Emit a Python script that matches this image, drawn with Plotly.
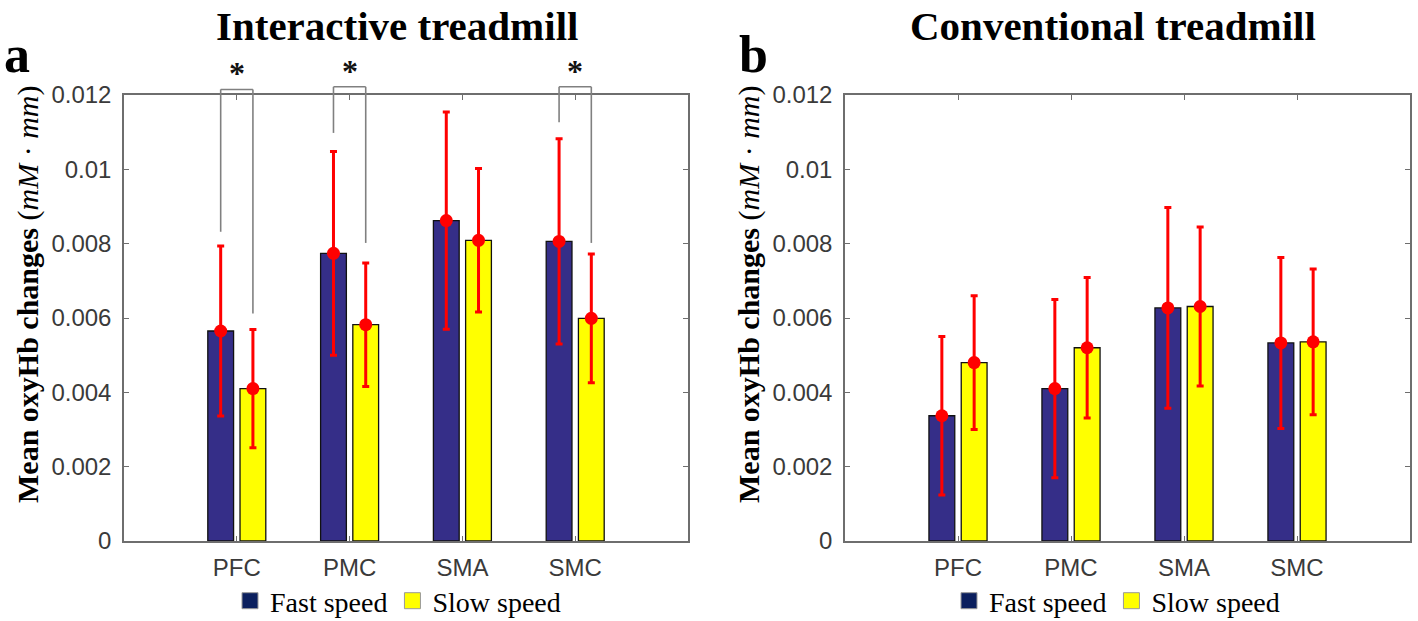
import plotly.graph_objects as go

# ---------------- data ----------------
regions = ["PFC", "PMC", "SMA", "SMC"]
region_pos = [1, 2, 3, 4]

# Interactive treadmill (panel a)
inter_fast_mean = [0.00565, 0.00774, 0.00862, 0.00806]
inter_fast_err = [0.00229, 0.00274, 0.00292, 0.00276]
inter_slow_mean = [0.00410, 0.00582, 0.00809, 0.00599]
inter_slow_err = [0.00159, 0.00166, 0.00193, 0.00173]

# Conventional treadmill (panel b)
conv_fast_mean = [0.00337, 0.00410, 0.00627, 0.00533]
conv_fast_err = [0.00213, 0.00240, 0.00270, 0.00230]
conv_slow_mean = [0.00480, 0.00520, 0.00631, 0.00536]
conv_slow_err = [0.00180, 0.00189, 0.00214, 0.00196]

# significance brackets (panel a)
sig_pos = [1, 2, 4]
sig_top = [0.01215, 0.01222, 0.01222]
sig_left_bottom = [0.00832, 0.01098, 0.01127]
sig_right_bottom = [0.00612, 0.00802, 0.00802]

y_tickvals = [0, 0.002, 0.004, 0.006, 0.008, 0.01, 0.012]
y_ticktext = ["0", "0.002", "0.004", "0.006", "0.008", "0.01", "0.012"]
Y_MAX = 0.012

# ---------------- style ----------------
W, H = 1418, 621
MB = 60  # bottom margin (room for legends)
FAST_COLOR = "#352e88"
SLOW_COLOR = "#ffff00"
FAST_LEG = "#0b1f5e"
AXIS_COLOR = "#6e6e6e"
TICK_FONT = dict(family="Liberation Sans, Arial", size=24, color="#3a3a3a")
SERIF = "Liberation Serif, Times New Roman"
GROUP_OFFSET = 0.1429  # half of a grouped-bar slot (bargap/bargroupgap below)


def px_x(p):
    return p / W


def px_y(p):
    return (H - MB - p) / (H - MB)


fig = go.Figure()

panels = [
    ("x", "y", inter_fast_mean, inter_fast_err, inter_slow_mean, inter_slow_err, "legend"),
    ("x2", "y2", conv_fast_mean, conv_fast_err, conv_slow_mean, conv_slow_err, "legend2"),
]

for xa, ya, fm, fe, sm, se, leg in panels:
    fig.add_trace(go.Bar(x=region_pos, y=fm, xaxis=xa, yaxis=ya, offsetgroup="fast",
                         marker=dict(color=FAST_COLOR, line=dict(color="#111111", width=1.3)),
                         showlegend=False))
    fig.add_trace(go.Bar(x=region_pos, y=sm, xaxis=xa, yaxis=ya, offsetgroup="slow",
                         marker=dict(color=SLOW_COLOR, line=dict(color="#111111", width=1.3)),
                         showlegend=False))
    for means, errs, sign in ((fm, fe, -1), (sm, se, 1)):
        fig.add_trace(go.Scatter(
            x=[p + sign * GROUP_OFFSET for p in region_pos], y=means, xaxis=xa, yaxis=ya,
            mode="markers",
            marker=dict(color="#ff0000", size=13, symbol="circle"),
            error_y=dict(type="data", array=errs, visible=True, color="#ff0000",
                         thickness=3, width=3.5),
            showlegend=False))
    # legend entries
    fig.add_trace(go.Scatter(x=[None], y=[None], xaxis=xa, yaxis=ya, mode="markers",
                             name="Fast speed", legend=leg,
                             marker=dict(symbol="square", size=16, color=FAST_LEG,
                                         line=dict(color="#999999", width=1))))
    fig.add_trace(go.Scatter(x=[None], y=[None], xaxis=xa, yaxis=ya, mode="markers",
                             name="Slow speed", legend=leg,
                             marker=dict(symbol="square", size=16, color=SLOW_COLOR,
                                         line=dict(color="#999999", width=1))))

# significance brackets (drawn as shapes so they can extend above the axes box)
shapes = []
annotations = []
for p, top, lb, rb in zip(sig_pos, sig_top, sig_left_bottom, sig_right_bottom):
    xl, xr = p - GROUP_OFFSET, p + GROUP_OFFSET
    line = dict(color="#808080", width=1.6)
    for x0, y0, x1, y1 in ((xl, lb, xl, top), (xl, top, xr, top), (xr, top, xr, rb)):
        shapes.append(dict(type="line", xref="x", yref="y domain", x0=x0, x1=x1,
                           y0=y0 / Y_MAX, y1=y1 / Y_MAX, line=line, layer="above"))
    annotations.append(dict(x=p, y=top / Y_MAX, xref="x", yref="y domain", text="<b>*</b>",
                            showarrow=False, xanchor="center", yanchor="bottom", yshift=-4,
                            font=dict(family=SERIF, size=32, color="#111111")))

ylab = "<b>Mean oxyHb changes</b> (<i>mM</i> · <i>mm</i>)"
annotations += [
    dict(x=px_x(397), y=px_y(1), xref="paper", yref="paper", text="<b>Interactive treadmill</b>",
         xanchor="center", yanchor="top",
         showarrow=False, font=dict(family=SERIF, size=41, color="#000000")),
    dict(x=px_x(1113), y=px_y(1), xref="paper", yref="paper", text="<b>Conventional treadmill</b>",
         xanchor="center", yanchor="top",
         showarrow=False, font=dict(family=SERIF, size=41, color="#000000")),
    dict(x=px_x(2), y=px_y(54), xref="paper", yref="paper", text="<b>a</b>", xanchor="left",
         yanchor="middle", showarrow=False, font=dict(family=SERIF, size=52, color="#000000")),
    dict(x=px_x(737), y=px_y(54), xref="paper", yref="paper", text="<b>b</b>", xanchor="left",
         yanchor="middle", showarrow=False, font=dict(family=SERIF, size=52, color="#000000")),
    dict(x=px_x(28), y=px_y(294), xref="paper", yref="paper", text=ylab, textangle=-90,
         xanchor="center", yanchor="middle",
         showarrow=False, font=dict(family=SERIF, size=30, color="#000000")),
    dict(x=px_x(749), y=px_y(294), xref="paper", yref="paper", text=ylab, textangle=-90,
         xanchor="center", yanchor="middle",
         showarrow=False, font=dict(family=SERIF, size=30, color="#000000")),
]

xcommon = dict(range=[0, 5], tickvals=region_pos, ticktext=regions, ticks="inside", ticklen=5,
               tickwidth=1.2, tickcolor=AXIS_COLOR, showline=True, linecolor=AXIS_COLOR,
               linewidth=1.5, mirror="ticks", showgrid=False, zeroline=False,
               tickfont=TICK_FONT, ticklabelstandoff=4)
ycommon = dict(range=[0, Y_MAX], tickvals=y_tickvals, ticktext=y_ticktext, ticks="inside",
               ticklen=5, tickwidth=1.2, tickcolor=AXIS_COLOR, showline=True,
               linecolor=AXIS_COLOR, linewidth=1.5, mirror="ticks", showgrid=False,
               zeroline=False, tickfont=TICK_FONT, ticklabelstandoff=6)

legcommon = dict(orientation="h", yanchor="middle", xanchor="center", y=px_y(601),
                 font=dict(family=SERIF, size=28, color="#000000"), bgcolor="rgba(0,0,0,0)",
                 itemsizing="trace")

fig.update_layout(
    width=W, height=H, autosize=False,
    margin=dict(l=0, r=0, t=0, b=MB, pad=0, autoexpand=False),
    paper_bgcolor="white", plot_bgcolor="white",
    barmode="group", bargap=0.4286, bargroupgap=0.2,
    xaxis=dict(domain=[px_x(124), px_x(688)], anchor="y", **xcommon),
    yaxis=dict(domain=[px_y(541), px_y(95)], anchor="x", **ycommon),
    xaxis2=dict(domain=[px_x(845), px_x(1410)], anchor="y2", **xcommon),
    yaxis2=dict(domain=[px_y(541), px_y(95)], anchor="x2", **ycommon),
    legend=dict(x=px_x(398), **legcommon),
    legend2=dict(x=px_x(1117), **legcommon),
    annotations=annotations,
    shapes=shapes,
)

fig.write_html("out.html", config={"displayModeBar": False},
               post_script="document.body.style.margin='0';")
